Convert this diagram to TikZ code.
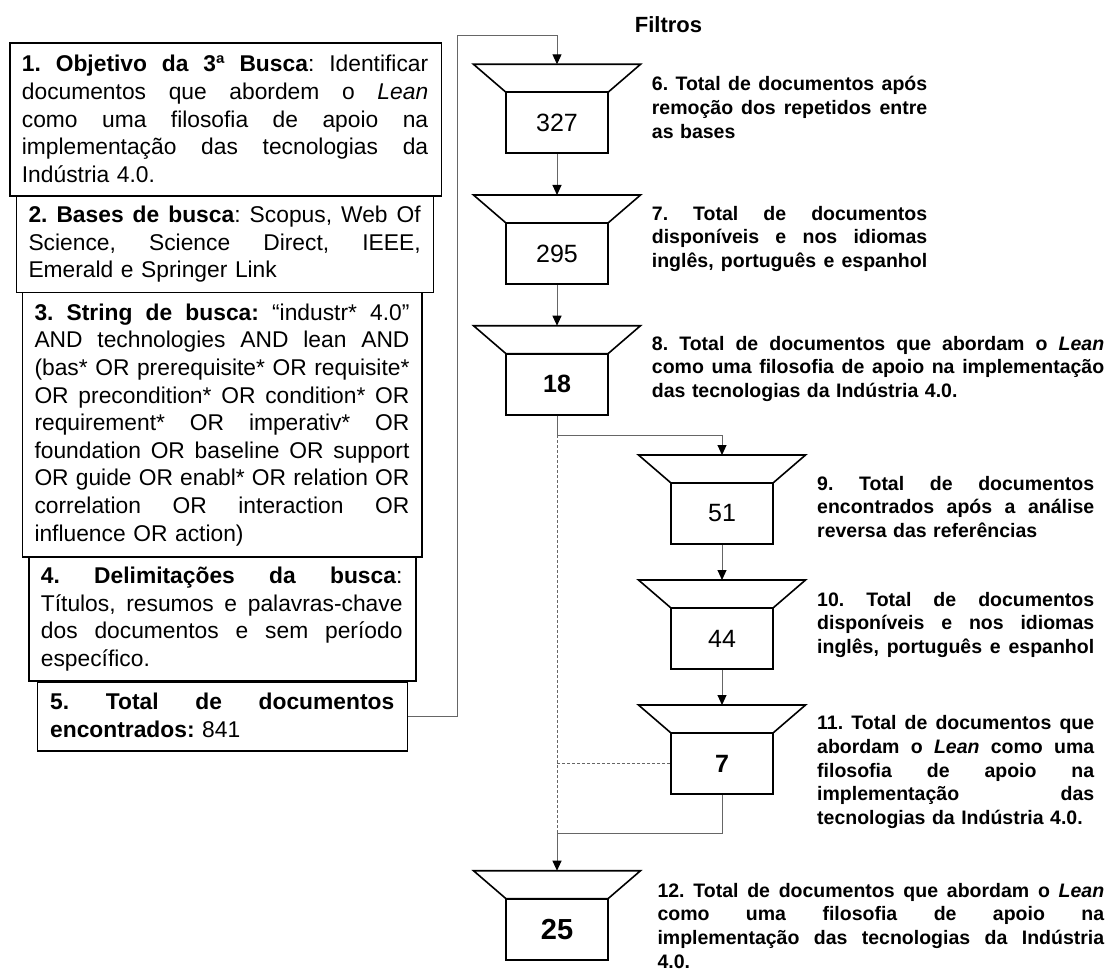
\documentclass[tikz,border=0pt]{standalone}
\usepackage{fontspec}
\setmainfont{Liberation Sans}
\usetikzlibrary{arrows.meta,calc}

% width of the current text block, and one justified line stretched to it
\newlength\jw
\newcommand\jl[1]{\leavevmode\hbox to\jw{\spaceskip=0.278em plus 1fil\relax #1}}
% struts fixing the height of the first line of a text block
\newcommand\lstrut{\rule{0pt}{22pt}}
\newcommand\rstrut{\rule{0pt}{19pt}}

\tikzset{
  frame/.style={draw=black, line width=1.6pt, inner sep=0pt, anchor=north west},
  jtext/.style={text width=#1, execute at begin node={\frenchspacing\setlength{\jw}{#1}}},
  boxtext/.style={anchor=north west, inner sep=0pt, align=left,
    font=\fontsize{22.8}{27.6}\selectfont},
  labeltext/.style={anchor=north west, inner sep=0pt, align=left,
    font=\fontsize{19.5}{23.6}\selectfont\bfseries},
  numbox/.style={draw=black, line width=1.6pt, minimum width=102pt,
    minimum height=61pt, inner sep=0pt, fill=white},
  hopper/.style={draw=black, line width=1.6pt, line join=miter, fill=white},
  conn/.style={draw=black!60, line width=1pt},
  arr/.style={conn, -{Triangle[length=10pt,width=9pt,color=black]}},
  dashconn/.style={draw=black!60, line width=1pt, dash pattern=on 3pt off 2pt},
  numfont/.style={font=\fontsize{25}{25}\selectfont},
  numbold/.style={font=\fontsize{25}{25}\selectfont\bfseries},
  numbig/.style={font=\fontsize{29}{29}\selectfont\bfseries},
}

% filter step: trapezoid hopper above a box holding the count
% #1 name, #2 centre x, #3 top y, #4 text style, #5 count
\newcommand\filterstep[5]{%
  \draw[hopper] (#2-83.5,#3) -- (#2+83.5,#3) -- (#2+51,#3+28) -- (#2-51,#3+28) -- cycle;
  \node[numbox, #4] (#1) at (#2,#3+58.5) {#5};
  \coordinate (#1top) at (#2,#3);
}

\begin{document}
\begin{tikzpicture}[x=1pt, y=-1pt]
\useasboundingbox (0,0) rectangle (1107,968);

% ---------- search description (left column) ----------
\node[frame, minimum width=431.5pt, minimum height=153pt] (b1) at (9,42) {};
\node[frame, minimum width=417pt, minimum height=96.7pt] (b2) at (15.7,195) {};
\node[frame, minimum width=399.6pt, minimum height=264.3pt] (b3) at (21.7,291.7) {};
\node[frame, minimum width=386.7pt, minimum height=124pt] (b4) at (28.3,556) {};
\node[frame, minimum width=370pt, minimum height=69pt] (b5) at (36.7,681) {};

\node[boxtext, jtext=406.3pt] (t1) at (21.7,71.7-22) {%
  \jl{\lstrut\textbf{1. Objetivo da 3ª Busca}: Identificar}\\
  \jl{documentos que abordem o \textit{Lean}}\\
  \jl{como uma filosofia de apoio na}\\
  \jl{implementação das tecnologias da}\\
  Indústria 4.0.};

\node[boxtext, jtext=392.2pt] (t2) at (28.3,222.3-22) {%
  \jl{\lstrut\textbf{2. Bases de busca}: Scopus, Web Of}\\
  \jl{Science, Science Direct, IEEE,}\\
  Emerald e Springer Link};

\node[boxtext, jtext=375pt] (t3) at (34.3,320-22) {%
  \jl{\lstrut\textbf{3. String de busca:} “industr* 4.0”}\\
  \jl{AND technologies AND lean AND}\\
  \jl{(bas* OR prerequisite* OR requisite*}\\
  \jl{OR precondition* OR condition* OR}\\
  \jl{requirement* OR imperativ* OR}\\
  \jl{foundation OR baseline OR support}\\
  \jl{OR guide OR enabl* OR relation OR}\\
  \jl{correlation OR interaction OR}\\
  influence OR action)};

\node[boxtext, jtext=361.6pt] (t4) at (40.7,583.3-22) {%
  \jl{\lstrut\textbf{4. Delimitações da busca}:}\\
  \jl{Títulos, resumos e palavras-chave}\\
  \jl{dos documentos e sem período}\\
  específico.};

\node[boxtext, jtext=344pt] (t5) at (50,709.3-22) {%
  \jl{\lstrut\textbf{5. Total de documentos}}\\
  \textbf{encontrados:} 841};

% ---------- filters ----------
\node[font=\fontsize{22}{22}\selectfont\bfseries] (title) at (668.5,25) {Filtros};

\filterstep{f6}{557}{64.3}{numfont}{327}
\filterstep{f7}{557}{195}{numfont}{295}
\filterstep{f8}{557}{325.7}{numbold}{18}
\filterstep{f9}{722}{455}{numfont}{51}
\filterstep{f10}{722}{580}{numfont}{44}
\filterstep{f11}{722}{705}{numbold}{7}
\filterstep{f12}{557}{870.7}{numbig}{25}

\node[labeltext, jtext=275.3pt] (l6) at (651.7,90.7-19) {%
  \jl{\rstrut 6. Total de documentos após}\\
  \jl{remoção dos repetidos entre}\\
  as bases};
\node[labeltext, jtext=275.3pt] (l7) at (651.7,220-19) {%
  \jl{\rstrut 7. Total de documentos}\\
  \jl{disponíveis e nos idiomas}\\
  \jl{inglês, português e espanhol}};
\node[labeltext, jtext=452.3pt] (l8) at (651.7,350-19) {%
  \jl{\rstrut 8. Total de documentos que abordam o \textit{Lean}}\\
  \jl{como uma filosofia de apoio na implementação}\\
  das tecnologias da Indústria 4.0.};
\node[labeltext, jtext=277pt] (l9) at (817,490-19) {%
  \jl{\rstrut 9. Total de documentos}\\
  \jl{encontrados após a análise}\\
  reversa das referências};
\node[labeltext, jtext=277pt] (l10) at (817,606-19) {%
  \jl{\rstrut 10. Total de documentos}\\
  \jl{disponíveis e nos idiomas}\\
  \jl{inglês, português e espanhol}};
\node[labeltext, jtext=277pt] (l11) at (817,729.6-19) {%
  \jl{\rstrut 11. Total de documentos que}\\
  \jl{abordam o \textit{Lean} como uma}\\
  \jl{filosofia de apoio na}\\
  \jl{implementação das}\\
  tecnologias da Indústria 4.0.};
\node[labeltext, jtext=446.7pt] (l12) at (657.3,897-19) {%
  \jl{\rstrut 12. Total de documentos que abordam o \textit{Lean}}\\
  \jl{como uma filosofia de apoio na}\\
  \jl{implementação das tecnologias da Indústria}\\
  4.0.};

% ---------- connectors ----------
\coordinate (turnA) at (457.7,35.7);
\coordinate (j1) at (557,435);
\coordinate (j2) at (557,833);

\draw[arr] (b5.east) -| (turnA) -| (f6top);
\draw[arr] (f6.south) -- (f7top);
\draw[arr] (f7.south) -- (f8top);
\draw[arr] (f8.south) -- (j1) -| (f9top);
\draw[dashconn] (j1) -- (j2);
\draw[arr] (f9.south) -- (f10top);
\draw[arr] (f10.south) -- (f11top);
\draw[dashconn] (f11.west) -- (f11.west -| j1);
\draw[arr] (f11.south) |- (j2) -- (f12top);
\end{tikzpicture}
\end{document}
